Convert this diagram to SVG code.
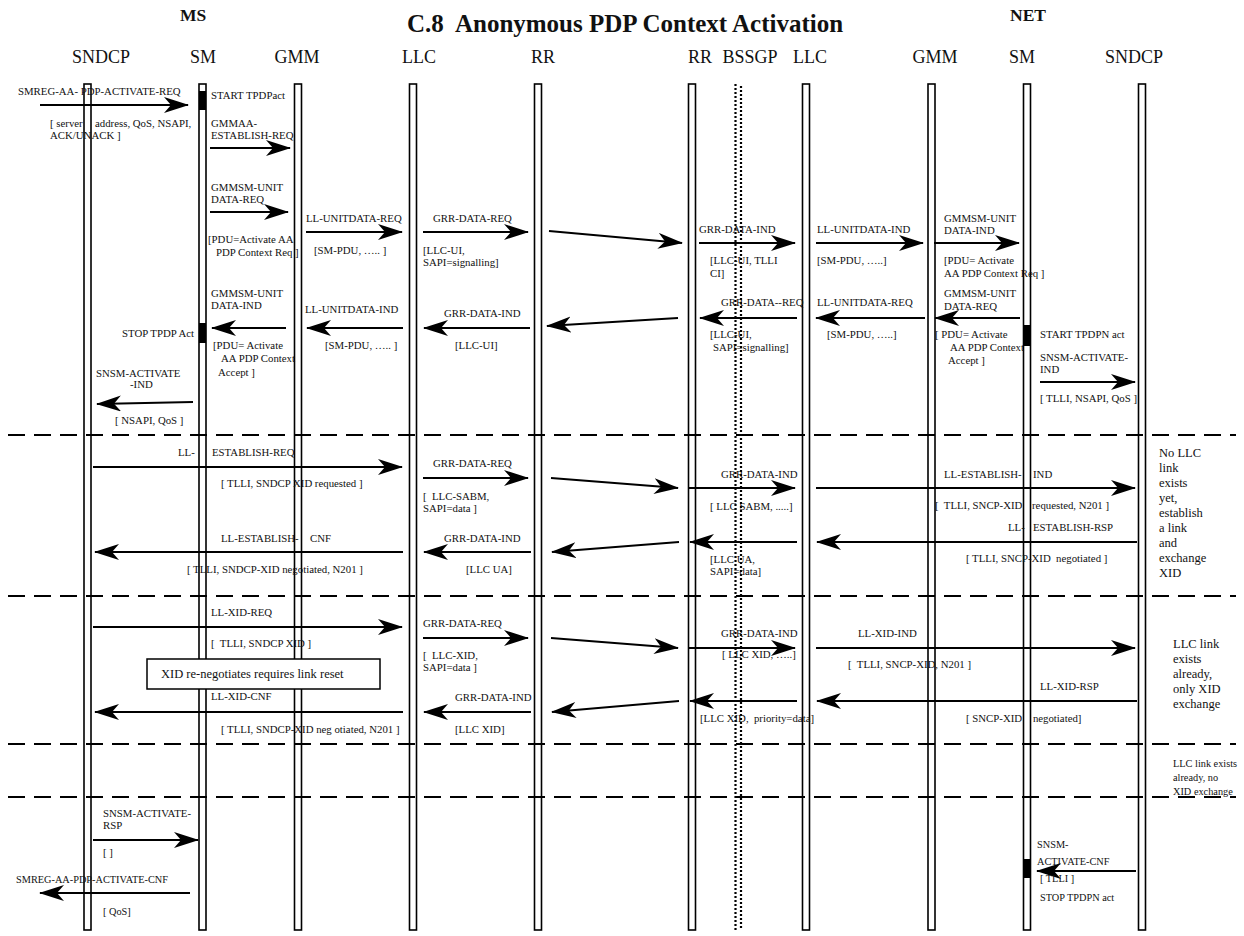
<svg xmlns="http://www.w3.org/2000/svg" width="1244" height="936" viewBox="0 0 1244 936">
<style>
.ll{fill:#fff;stroke:#000;stroke-width:1.6}
.bar{fill:#000}
.m{stroke:#000;stroke-width:2;fill:none;marker-end:url(#ah)}
.d{stroke:#000;stroke-width:2;stroke-dasharray:17 9;fill:none}
text{font-family:"Liberation Serif","Times New Roman",serif;fill:#111}
.t{font-size:10.8px}
.s{font-size:10.3px}
.n{font-size:12.5px}
.h{font-size:18px;text-anchor:middle}
.b{font-weight:bold}
</style>
<defs>
<marker id="ah" markerUnits="userSpaceOnUse" markerWidth="26" markerHeight="18" refX="24" refY="8" orient="auto">
<path d="M25,8 L0,0 L7,8 L0,16 Z" fill="#000"/>
</marker>
</defs>
<rect width="1244" height="936" fill="#fff"/>
<text class="b" x="407" y="32" font-size="25" xml:space="preserve">C.8  Anonymous PDP Context Activation</text>
<text class="b" x="193" y="21" font-size="17.5" text-anchor="middle">MS</text>
<text class="b" x="1028" y="21" font-size="17.5" text-anchor="middle">NET</text>

<g id="ms-sndcp"><text class="h" x="101" y="63">SNDCP</text><rect class="ll" x="84" y="84" width="7" height="846"/></g>
<g id="ms-sm"><text class="h" x="203" y="63">SM</text><rect class="ll" x="199" y="84" width="7" height="846"/>
<rect class="bar" x="199" y="91" width="7" height="19"/><rect class="bar" x="199" y="323" width="7" height="20"/></g>
<g id="ms-gmm"><text class="h" x="297" y="63">GMM</text><rect class="ll" x="294.5" y="84" width="7" height="846"/></g>
<g id="ms-llc"><text class="h" x="419" y="63">LLC</text><rect class="ll" x="409.5" y="84" width="7" height="846"/></g>
<g id="ms-rr"><text class="h" x="543" y="63">RR</text><rect class="ll" x="534.5" y="84" width="7" height="846"/></g>
<g id="net-rr"><text class="h" x="700" y="63">RR</text><rect class="ll" x="688.5" y="84" width="7" height="846"/></g>
<g id="net-bssgp"><text class="h" x="750" y="63">BSSGP</text>
<line x1="735.5" y1="84" x2="735.5" y2="930" stroke="#000" stroke-width="2.2" stroke-dasharray="2 2"/>
<line x1="741" y1="84" x2="741" y2="930" stroke="#000" stroke-width="2.2" stroke-dasharray="2 2" stroke-dashoffset="2"/></g>
<g id="net-llc"><text class="h" x="810" y="63">LLC</text><rect class="ll" x="802.5" y="84" width="7" height="846"/></g>
<g id="net-gmm"><text class="h" x="935" y="63">GMM</text><rect class="ll" x="928" y="84" width="7" height="846"/></g>
<g id="net-sm"><text class="h" x="1022" y="63">SM</text><rect class="ll" x="1023.5" y="84" width="7" height="846"/>
<rect class="bar" x="1023.5" y="325" width="7" height="21"/><rect class="bar" x="1023.5" y="859" width="7" height="19"/></g>
<g id="net-sndcp"><text class="h" x="1134" y="63">SNDCP</text><rect class="ll" x="1138.5" y="84" width="7" height="846"/></g>

<g id="separators">
<line class="d" x1="8" y1="435" x2="1236" y2="435"/>
<line class="d" x1="8" y1="596" x2="1236" y2="596"/>
<line class="d" x1="8" y1="744" x2="1236" y2="744"/>
<line class="d" x1="8" y1="797" x2="1236" y2="797"/>
</g>

<g id="connectors">
<path class="m" d="M40,105 H188"/>
<path class="m" d="M210,148 H290"/>
<path class="m" d="M210,212 H288"/>
<path class="m" d="M306,232 H402"/>
<path class="m" d="M423,232 H528"/>
<path class="m" d="M549,231 L682,243"/>
<path class="m" d="M699,243 H795"/>
<path class="m" d="M816,243 H923"/>
<path class="m" d="M934,243 H1019"/>
<path class="m" d="M1020,318 H935"/>
<path class="m" d="M925,318 H816"/>
<path class="m" d="M797,318 H700"/>
<path class="m" d="M678,318 L547,326"/>
<path class="m" d="M530,328 H424"/>
<path class="m" d="M403,328 H307"/>
<path class="m" d="M286,328 H212"/>
<path class="m" d="M193,402 L97,404"/>
<path class="m" d="M1040,382 H1135"/>

<path class="m" d="M93,467 H402"/>
<path class="m" d="M423,478 H528"/>
<path class="m" d="M551,478 L678,488"/>
<path class="m" d="M688,488 H795"/>
<path class="m" d="M816,488 H1135"/>
<path class="m" d="M1137,542 H817"/>
<path class="m" d="M797,542 H690"/>
<path class="m" d="M679,542 L552,552"/>
<path class="m" d="M531,552 H424"/>
<path class="m" d="M403,552 H95"/>

<path class="m" d="M93,627 H402"/>
<path class="m" d="M423,638 H528"/>
<path class="m" d="M551,638 L678,648"/>
<path class="m" d="M688,648 H795"/>
<path class="m" d="M816,648 H1135"/>
<path class="m" d="M1137,701 H817"/>
<path class="m" d="M797,701 H690"/>
<path class="m" d="M679,701 L552,712"/>
<path class="m" d="M531,712 H424"/>
<path class="m" d="M403,712 H95"/>

<path class="m" d="M93,840 H198"/>
<path class="m" d="M190,893 H40"/>
<path class="m" d="M1136,871 H1037"/>
</g>

<g id="labels">
<text class="t" x="18" y="95">SMREG-AA- PDP-ACTIVATE-REQ</text>
<text class="t" x="50" y="127">[ server</text><text class="t" x="95" y="127">address, QoS, NSAPI,</text>
<text class="t" x="50" y="139">ACK/UNACK ]</text>
<text class="t" x="211" y="99">START TPDPact</text>
<text class="t" x="211" y="127">GMMAA-</text><text class="t" x="211" y="139">ESTABLISH-REQ</text>
<text class="t" x="211" y="191">GMMSM-UNIT</text><text class="t" x="211" y="203">DATA-REQ</text>
<text class="t" x="208" y="243">[PDU=Activate AA</text><text class="t" x="216" y="256">PDP Context Req ]</text>
<text class="t" x="306" y="222">LL-UNITDATA-REQ</text><text class="t" x="314" y="254">[SM-PDU, ….. ]</text>
<text class="t" x="433" y="222">GRR-DATA-REQ</text><text class="t" x="423" y="254">[LLC-UI,</text><text class="t" x="423" y="266">SAPI=signalling]</text>
<text class="t" x="699" y="233">GRR-DATA-IND</text><text class="t" x="710" y="264">[LLC-UI, TLLI</text><text class="t" x="710" y="277">CI]</text>
<text class="t" x="817" y="233">LL-UNITDATA-IND</text><text class="t" x="817" y="264">[SM-PDU, …..]</text>
<text class="t" x="944" y="222">GMMSM-UNIT</text><text class="t" x="944" y="234">DATA-IND</text>
<text class="t" x="944" y="264">[PDU= Activate</text><text class="t" x="944" y="277">AA PDP Context Req ]</text>
<text class="t" x="944" y="297">GMMSM-UNIT</text><text class="t" x="944" y="310">DATA-REQ</text>
<text class="t" x="935" y="338">[ PDU= Activate</text><text class="t" x="950" y="351">AA PDP Context</text><text class="t" x="948" y="364">Accept ]</text>
<text class="t" x="1040" y="338">START TPDPN act</text>
<text class="t" x="1040" y="361">SNSM-ACTIVATE-</text><text class="t" x="1040" y="373">IND</text>
<text class="t" x="1040" y="402">[ TLLI, NSAPI, QoS ]</text>
<text class="t" x="817" y="306">LL-UNITDATA-REQ</text><text class="t" x="827" y="338">[SM-PDU, …..]</text>
<text class="t" x="721" y="306">GRR-DATA--REQ</text><text class="t" x="710" y="338">[LLC-UI,</text><text class="t" x="713" y="351">SAPI=signalling]</text>
<text class="t" x="444" y="317">GRR-DATA-IND</text><text class="t" x="455" y="349">[LLC-UI]</text>
<text class="t" x="305" y="313">LL-UNITDATA-IND</text><text class="t" x="325" y="349">[SM-PDU, ….. ]</text>
<text class="t" x="211" y="297">GMMSM-UNIT</text><text class="t" x="211" y="309">DATA-IND</text>
<text class="t" x="213" y="349">[PDU= Activate</text><text class="t" x="221" y="362">AA PDP Context</text><text class="t" x="218" y="376">Accept ]</text>
<text class="t" x="194" y="337" text-anchor="end">STOP TPDP Act</text>
<text class="t" x="96" y="377">SNSM-ACTIVATE</text><text class="t" x="130" y="388">-IND</text>
<text class="t" x="115" y="424">[ NSAPI, QoS ]</text>

<text class="t" x="178" y="456">LL-</text><text class="t" x="212" y="456">ESTABLISH-REQ</text>
<text class="t" x="221" y="487">[ TLLI, SNDCP XID requested ]</text>
<text class="t" x="221" y="542">LL-ESTABLISH-</text><text class="t" x="310" y="542">CNF</text>
<text class="t" x="187" y="573">[ TLLI, SNDCP-XID negotiated, N201 ]</text>
<text class="t" x="433" y="467">GRR-DATA-REQ</text><text class="t" x="423" y="500" xml:space="preserve">[  LLC-SABM,</text><text class="t" x="423" y="512">SAPI=data ]</text>
<text class="t" x="721" y="478">GRR-DATA-IND</text><text class="t" x="710" y="510">[ LLC SABM, .....]</text>
<text class="t" x="444" y="542">GRR-DATA-IND</text><text class="t" x="466" y="573">[LLC UA]</text>
<text class="t" x="710" y="563">[LLC UA,</text><text class="t" x="710" y="575">SAPI=data]</text>
<text class="t" x="944" y="478">LL-ESTABLISH-</text><text class="t" x="1033" y="478">IND</text>
<text class="t" x="935" y="509" xml:space="preserve">[  TLLI, SNCP-XID</text><text class="t" x="1032" y="509">requested, N201 ]</text>
<text class="t" x="1008" y="531">LL-</text><text class="t" x="1033" y="531">ESTABLISH-RSP</text>
<text class="t" x="966" y="562" xml:space="preserve">[ TLLI, SNCP-XID  negotiated ]</text>
<text class="n" x="1159" y="457">No LLC</text><text class="n" x="1159" y="472">link</text><text class="n" x="1159" y="487">exists</text>
<text class="n" x="1159" y="502">yet,</text><text class="n" x="1159" y="517">establish</text><text class="n" x="1159" y="532">a link</text>
<text class="n" x="1159" y="547">and</text><text class="n" x="1159" y="562">exchange</text><text class="n" x="1159" y="577">XID</text>

<text class="t" x="211" y="616">LL-XID-REQ</text>
<text class="t" x="211" y="647" xml:space="preserve">[  TLLI, SNDCP XID ]</text>
<g id="note-xid"><rect x="147" y="659" width="233" height="30" fill="#fff" stroke="#000" stroke-width="1.5"/>
<text class="n" x="161" y="678">XID re-negotiates requires link reset</text></g>
<text class="t" x="211" y="700">LL-XID-CNF</text>
<text class="t" x="221" y="733">[ TLLI, SNDCP-XID neg otiated, N201 ]</text>
<text class="t" x="423" y="627">GRR-DATA-REQ</text><text class="t" x="423" y="659" xml:space="preserve">[  LLC-XID,</text><text class="t" x="423" y="671">SAPI=data ]</text>
<text class="t" x="721" y="637">GRR-DATA-IND</text><text class="t" x="722" y="658">[ LLC XID, …..]</text>
<text class="t" x="455" y="701">GRR-DATA-IND</text><text class="t" x="455" y="733">[LLC XID]</text>
<text class="t" x="700" y="722" xml:space="preserve">[LLC XID,  priority=data]</text>
<text class="t" x="858" y="637">LL-XID-IND</text>
<text class="t" x="848" y="668" xml:space="preserve">[  TLLI, SNCP-XID, N201 ]</text>
<text class="t" x="1040" y="690">LL-XID-RSP</text>
<text class="t" x="966" y="722" xml:space="preserve">[ SNCP-XID    negotiated]</text>
<text class="n" x="1173" y="648">LLC link</text><text class="n" x="1173" y="663">exists</text><text class="n" x="1173" y="678">already,</text>
<text class="n" x="1173" y="693">only XID</text><text class="n" x="1173" y="708">exchange</text>

<text class="s" x="1173" y="767">LLC link exists</text><text class="s" x="1173" y="781">already, no</text><text class="s" x="1173" y="795">XID exchange</text>

<text class="t" x="103" y="817">SNSM-ACTIVATE-</text><text class="t" x="103" y="829">RSP</text>
<text class="t" x="103" y="856">[ ]</text>
<text class="s" x="16" y="883">SMREG-AA-PDP-ACTIVATE-CNF</text>
<text class="s" x="103" y="915">[ QoS]</text>
<text class="s" x="1037" y="848">SNSM-</text><text class="s" x="1037" y="865">ACTIVATE-CNF</text>
<text class="s" x="1040" y="882">[ TLLI ]</text>
<text class="s" x="1040" y="901">STOP TPDPN act</text>
</g>
</svg>
